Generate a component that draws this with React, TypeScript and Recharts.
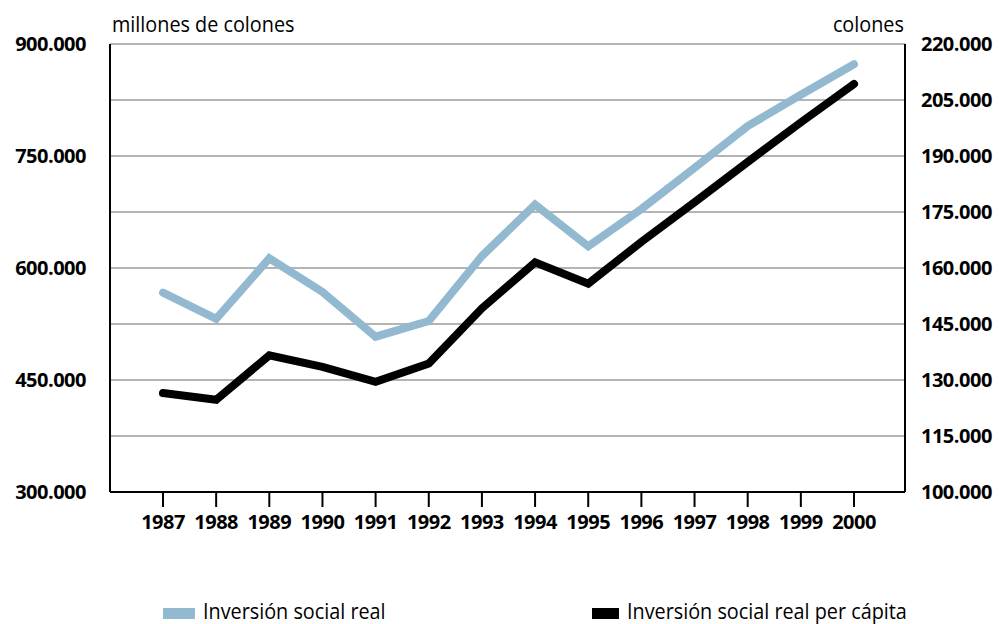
import { LineChart, Line, XAxis, YAxis, CartesianGrid } from 'recharts'

const years = ['1987', '1988', '1989', '1990', '1991', '1992', '1993', '1994', '1995', '1996', '1997', '1998', '1999', '2000']
// millones de colones (eje izquierdo)
const inversionReal = [567000, 532000, 613000, 568000, 508000, 529000, 616000, 685000, 629000, 679000, 734000, 790000, 832000, 873000]
// colones (eje derecho)
const inversionPerCapita = [126500, 124700, 136600, 133500, 129500, 134400, 149200, 161500, 155800, 167000, 177600, 188400, 199000, 209300]

const leftTicks = [300000, 375000, 450000, 525000, 600000, 675000, 750000, 825000, 900000]
const rightTicks = [100000, 115000, 130000, 145000, 160000, 175000, 190000, 205000, 220000]

const BLUE = '#93b9d1'
const GRID = '#b4b4b4'
const FONT = '"Open Sans", "Noto Sans", sans-serif'

const data = years.map((y, i) => ({ year: y, real: inversionReal[i], perCapita: inversionPerCapita[i] }))

function fmt(v: number): string {
  return String(v).replace(/\B(?=(\d{3})+(?!\d))/g, '.')
}

const tickStyle = { fontFamily: FONT, fontSize: 20, fontWeight: 700, letterSpacing: -0.5, fill: '#000' }

// condensed-looking label: Open Sans squeezed horizontally
const labelStyle = {
  position: 'absolute' as const,
  fontFamily: FONT,
  fontSize: 22,
  lineHeight: '24px',
  whiteSpace: 'nowrap' as const,
  transform: 'scaleX(0.9)',
  transformOrigin: 'left top',
}

export default function App() {
  return (
    <div style={{ position: 'absolute', left: 0, top: 0, width: 1005, height: 624, background: '#fff' }}>
      <LineChart width={1005} height={624} data={data} margin={{ top: 44, right: 0, bottom: 92, left: 0 }}>
        <CartesianGrid vertical={false} stroke={GRID} strokeWidth={2} yAxisId="left" />
        <XAxis
          dataKey="year"
          height={40}
          padding={{ left: 53, right: 51 }}
          axisLine={{ stroke: '#000', strokeWidth: 2 }}
          tickLine={{ stroke: '#000', strokeWidth: 2 }}
          tickSize={15}
          tickMargin={8}
          tick={tickStyle}
          interval={0}
        />
        <YAxis
          yAxisId="left"
          orientation="left"
          width={110}
          domain={[300000, 900000]}
          ticks={leftTicks}
          interval={0}
          axisLine={{ stroke: '#000', strokeWidth: 2 }}
          tickLine={false}
          tickSize={0}
          tickMargin={24}
          tick={tickStyle}
          tickFormatter={(v: number) => ((v - 300000) % 150000 === 0 ? fmt(v) : '')}
        />
        <YAxis
          yAxisId="right"
          orientation="right"
          width={100}
          domain={[100000, 220000]}
          ticks={rightTicks}
          interval={0}
          axisLine={{ stroke: '#000', strokeWidth: 2 }}
          tickLine={false}
          tickSize={0}
          tickMargin={16}
          tick={{ ...tickStyle, textAnchor: 'start' }}
          tickFormatter={(v: number) => fmt(v)}
        />
        <Line
          yAxisId="left"
          dataKey="real"
          type="linear"
          stroke={BLUE}
          strokeWidth={8}
          strokeLinecap="round"
          strokeLinejoin="miter"
          dot={false}
          activeDot={false}
          isAnimationActive={false}
        />
        <Line
          yAxisId="right"
          dataKey="perCapita"
          type="linear"
          stroke="#000"
          strokeWidth={8}
          strokeLinecap="round"
          strokeLinejoin="miter"
          dot={false}
          activeDot={false}
          isAnimationActive={false}
        />
      </LineChart>

      <div style={{ ...labelStyle, left: 112, top: 11 }}>millones de colones</div>
      <div style={{ ...labelStyle, right: 101, top: 11, transformOrigin: 'right top' }}>colones</div>

      <div style={{ position: 'absolute', left: 163, top: 608, width: 32, height: 11, background: BLUE }} />
      <div style={{ ...labelStyle, left: 203, top: 598 }}>Inversión social real</div>
      <div style={{ position: 'absolute', left: 592, top: 608, width: 27, height: 11, background: '#000' }} />
      <div style={{ ...labelStyle, left: 627, top: 598 }}>Inversión social real per cápita</div>
    </div>
  )
}
